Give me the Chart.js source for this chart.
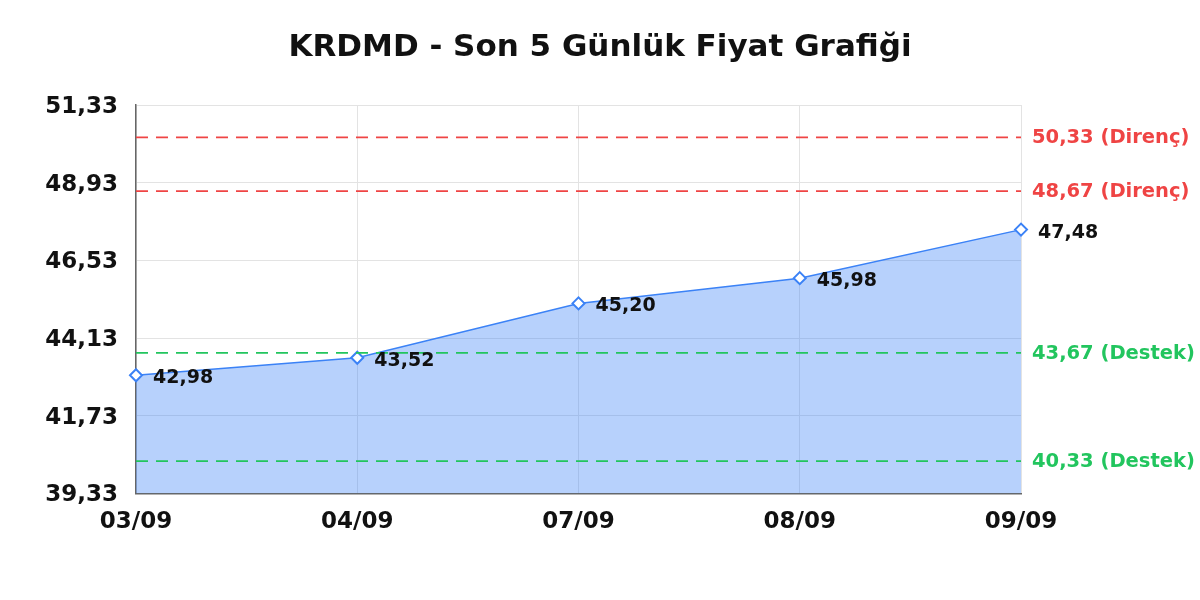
<!DOCTYPE html>
<html>
<head>
<meta charset="utf-8">
<script src="https://cdn.jsdelivr.net/npm/chart.js@4.4.0/dist/chart.umd.min.js"></script>
<style>
html,body{margin:0;padding:0;background:#fff;}
#wrap{width:1200px;height:600px;}
</style>
</head>
<body>
<div id="wrap"><canvas id="c" width="1200" height="600"></canvas></div>
<script>
const titleText = 'KRDMD - Son 5 Günlük Fiyat Grafiği';
const categories = ['03/09', '04/09', '07/09', '08/09', '09/09'];
const prices = [42.98, 43.52, 45.20, 45.98, 47.48];
const yTicks = [39.33, 41.73, 44.13, 46.53, 48.93, 51.33];
const resistanceLevels = [50.33, 48.67];
const supportLevels = [43.67, 40.33];

const fmt = v => v.toFixed(2).replace('.', ',');
const FONT = "'DejaVu Sans', sans-serif";

const levelPlugin = {
  id: 'levels',
  afterDraw(chart) {
    const ctx = chart.ctx;
    ctx.save();
    ctx.fillStyle = '#111';
    ctx.font = 'bold 31px ' + FONT;
    ctx.textAlign = 'center';
    ctx.textBaseline = 'middle';
    ctx.fillText(titleText, chart.width / 2, 48);
    ctx.restore();
  },
  afterDatasetsDraw(chart) {
    const ctx = chart.ctx;
    const y = chart.scales.y;
    const area = chart.chartArea;
    const levels = resistanceLevels.map(v => ({v, c: '#ef4444', t: ' (Direnç)'}))
      .concat(supportLevels.map(v => ({v, c: '#22c55e', t: ' (Destek)'})));
    ctx.save();
    levels.forEach(l => {
      const py = y.getPixelForValue(l.v);
      ctx.strokeStyle = l.c;
      ctx.lineWidth = 1.8;
      ctx.setLineDash([12, 8]);
      ctx.beginPath();
      ctx.moveTo(area.left, py);
      ctx.lineTo(area.right, py);
      ctx.stroke();
      ctx.setLineDash([]);
      ctx.fillStyle = l.c;
      ctx.font = 'bold 19.5px ' + FONT;
      ctx.textAlign = 'left';
      ctx.textBaseline = 'middle';
      ctx.fillText(fmt(l.v) + l.t, area.right + 11, py + 1);
    });
    const meta = chart.getDatasetMeta(0);
    ctx.fillStyle = '#111';
    ctx.font = 'bold 19px ' + FONT;
    meta.data.forEach((pt, i) => {
      ctx.fillText(fmt(prices[i]), pt.x + 17, pt.y + 3);
    });
    ctx.restore();
  }
};

new Chart(document.getElementById('c'), {
  type: 'line',
  data: {
    labels: categories,
    datasets: [{
      data: prices,
      borderColor: '#3b82f6',
      borderWidth: 1.5,
      backgroundColor: 'rgba(59,130,246,0.37)',
      fill: 'start',
      tension: 0,
      pointStyle: 'rectRot',
      pointRadius: 6,
      pointBorderWidth: 2,
      pointBackgroundColor: '#fff',
      pointBorderColor: '#3b82f6'
    }]
  },
  options: {
    responsive: false,
    animation: false,
    devicePixelRatio: 1,
    layout: { padding: { left: 10, right: 179, top: 105, bottom: 49 } },
    plugins: {
      legend: { display: false },
      tooltip: { enabled: false },
      title: { display: false }
    },
    scales: {
      x: {
        offset: false,
        grid: { color: '#e3e3e3', drawTicks: false },
        border: { color: '#666', width: 1.5 },
        ticks: { color: '#111', font: { family: FONT, size: 23, weight: 'bold' }, padding: 15, maxRotation: 0 }
      },
      y: {
        min: 39.33,
        max: 51.33,
        afterBuildTicks: s => { s.ticks = yTicks.map(v => ({ value: v })); },
        afterFit: s => { s.width = 126; },
        grid: { color: '#e3e3e3', drawTicks: false },
        border: { color: '#666', width: 1.5 },
        ticks: { color: '#111', font: { family: FONT, size: 23, weight: 'bold' }, padding: 18, labelOffset: 2, callback: v => fmt(v) }
      }
    }
  },
  plugins: [levelPlugin]
});
</script>
</body>
</html>
